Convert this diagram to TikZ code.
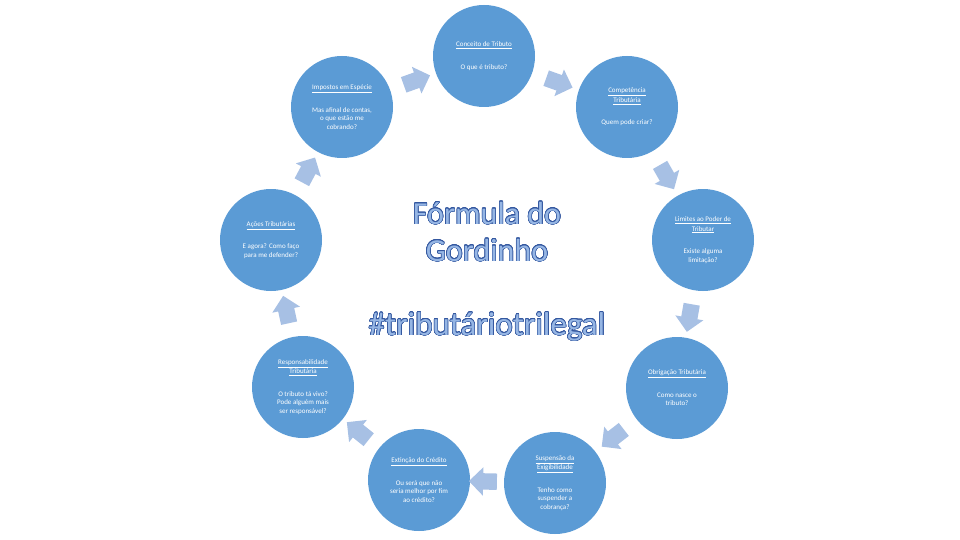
\documentclass[tikz,border=0pt]{standalone}
\usepackage{fontspec}
\setmainfont{Carlito}
\usepackage{contour}
\usetikzlibrary{shapes.arrows, positioning}
\definecolor{TopicBlue}{RGB}{91,155,213}
\definecolor{ArrowBlue}{RGB}{167,192,228}
\definecolor{HeadFill}{RGB}{150,182,228}
\definecolor{HeadLine}{RGB}{52,88,160}
\contourlength{0.6pt}
\contournumber{24}
\newcommand{\ttl}[1]{\underline{#1}}

\begin{document}
\begin{tikzpicture}[x=1pt, y=-1pt,
	topic/.style={circle, fill=TopicBlue, minimum size=102pt, inner sep=0pt,
		text=white, align=center, font=\fontsize{7}{8.5}\selectfont},
	cyclearrow/.style={single arrow, fill=ArrowBlue, minimum height=28pt,
		inner xsep=0pt, inner ysep=8pt, single arrow head extend=6pt,
		sloped, allow upside down},
	headline/.style={text=HeadFill, align=center, font=\fontsize{32}{37}\selectfont}]
	\useasboundingbox (0,0) rectangle (960,540);
	
	% os nove temas, no sentido horario
	\node[topic] (conceito) at (484,56) {\ttl{Conceito de Tributo}\\[14pt]O que é tributo?};
	\node[topic] (competencia) at (627,107) {\ttl{Competência}\\[1pt]\ttl{Tributária}\\[14pt]Quem pode criar?};
	\node[topic] (limites) at (703,240) {\ttl{Limites ao Poder de}\\[1pt]\ttl{Tributar}\\[14pt]Existe alguma\\limitação?};
	\node[topic] (obrigacao) at (677,388) {\ttl{Obrigação Tributária}\\[14pt]Como nasce o\\tributo?};
	\node[topic] (suspensao) at (555,483) {\ttl{Suspensão da}\\[1pt]\ttl{Exigibilidade}\\[14pt]Tenho como\\suspender a\\cobrança?};
	\node[topic] (extincao) at (419,480) {\ttl{Extinção do Crédito}\\[14pt]Ou será que não\\seria melhor por fim\\ao crédito?};
	\node[topic] (responsab) at (303,387) {\ttl{Responsabilidade}\\[1pt]\ttl{Tributária}\\[14pt]O tributo tá vivo?\\Pode alguém mais\\ser responsável?};
	\node[topic] (acoes) at (271,240) {\ttl{Ações Tributárias}\\[14pt]E agora? Como faço\\para me defender?};
	\node[topic] (impostos) at (342,107) {\ttl{Impostos em Espécie}\\[14pt]Mas afinal de contas,\\o que estão me\\cobrando?};
	
	% setas entre os temas
	\path (conceito) -- node[cyclearrow] (ar1) {} (competencia);
	\path (competencia) -- node[cyclearrow] (ar2) {} (limites);
	\path (limites) -- node[cyclearrow] (ar3) {} (obrigacao);
	\path (obrigacao) -- node[cyclearrow] (ar4) {} (suspensao);
	\path (suspensao) -- node[cyclearrow] (ar5) {} (extincao);
	\path (extincao) -- node[cyclearrow] (ar6) {} (responsab);
	\path (responsab) -- node[cyclearrow] (ar7) {} (acoes);
	\path (acoes) -- node[cyclearrow] (ar8) {} (impostos);
	\path (impostos) -- node[cyclearrow] (ar9) {} (conceito);
	
	% titulo no centro
	\node[headline] (formula) at (487,232) {\contour{HeadLine}{Fórmula do}\\\contour{HeadLine}{Gordinho}};
	\node[headline, font=\fontsize{33}{38}\selectfont] (hashtag) at (487,327) {\contour{HeadLine}{\#tributáriotrilegal}};
\end{tikzpicture}
\end{document}
